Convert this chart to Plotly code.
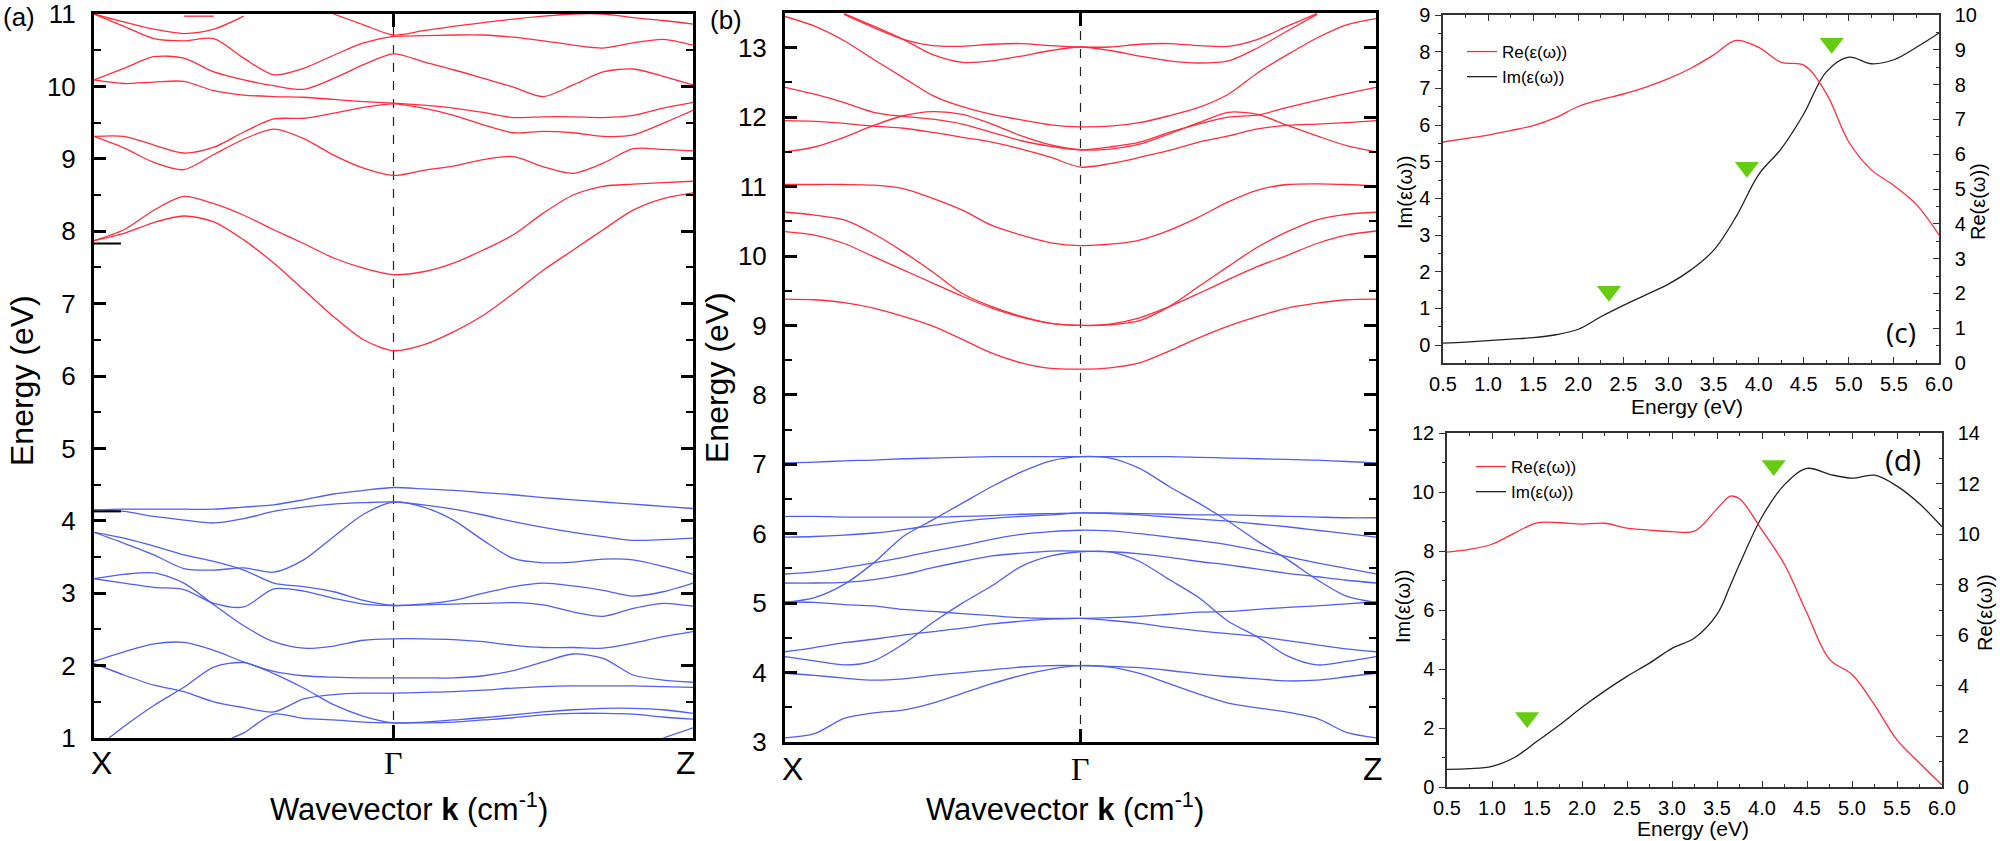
import plotly.graph_objects as go

# ---------------- data ----------------
# k path X - Gamma - Z (Gamma in the middle)
kpoint_pos = [0.0, 1.0, 2.0]
kpoint_names = ["X", "Γ", "Z"]
k_grid = [0.0, 0.1, 0.2, 0.3, 0.4, 0.5, 0.6, 0.7, 0.8, 0.9, 1.0,
          1.1, 1.2, 1.3, 1.4, 1.5, 1.6, 1.7, 1.8, 1.9, 2.0]

# panel (a) conduction bands (eV) on k_grid
a_c1 = [7.87, 7.97, 8.12, 8.21, 8.13, 7.88, 7.56, 7.19, 6.82, 6.5, 6.35, 6.43, 6.61, 6.84, 7.14, 7.46, 7.74, 8.02, 8.29, 8.45, 8.53]
a_c2 = [7.87, 8.02, 8.29, 8.48, 8.38, 8.22, 8.02, 7.83, 7.63, 7.49, 7.40, 7.44, 7.56, 7.74, 7.95, 8.25, 8.5, 8.62, 8.65, 8.67, 8.69]
a_c3 = [9.31, 9.15, 8.95, 8.85, 9.06, 9.27, 9.41, 9.28, 9.05, 8.87, 8.77, 8.84, 8.9, 8.99, 9.03, 8.89, 8.8, 8.94, 9.14, 9.13, 9.11]
a_c4 = [9.31, 9.31, 9.19, 9.08, 9.16, 9.37, 9.55, 9.56, 9.63, 9.71, 9.76, 9.70, 9.6, 9.47, 9.36, 9.38, 9.36, 9.31, 9.33, 9.49, 9.67]
a_c5 = [10.09, 10.04, 10.06, 10.07, 9.94, 9.88, 9.86, 9.85, 9.82, 9.79, 9.77, 9.74, 9.7, 9.64, 9.57, 9.58, 9.58, 9.57, 9.6, 9.7, 9.78]
a_c6 = [10.09, 10.25, 10.41, 10.39, 10.2, 10.09, 10.01, 9.96, 10.11, 10.3, 10.45, 10.34, 10.23, 10.11, 9.99, 9.86, 10.02, 10.2, 10.24, 10.14, 10.02]
a_c7 = [11.0, 10.83, 10.66, 10.63, 10.66, 10.39, 10.16, 10.25, 10.43, 10.6, 10.69, 10.7, 10.71, 10.71, 10.68, 10.63, 10.57, 10.53, 10.6, 10.65, 10.57]
a_c8 = [11.0, 10.89, 10.79, 10.73, 10.79, 10.97, None, None, None, None, None, None, None, None, None, None, None, None, None, None, None]
a_c9 = [None, None, None, 10.97, 10.97, None, None, None, None, None, None, None, None, None, None, None, None, None, None, None, None]
a_c10 = [None, None, None, None, None, None, None, None, 11.0, 10.85, 10.71, 10.77, 10.83, 10.88, 10.93, 10.97, 11.0, 11.0, 10.95, 10.91, 10.86]

# panel (a) valence bands (eV) on k_grid
a_v1 = [4.15, 4.16, 4.16, 4.16, 4.16, 4.19, 4.22, 4.29, 4.37, 4.42, 4.46, 4.44, 4.42, 4.39, 4.36, 4.32, 4.29, 4.26, 4.23, 4.2, 4.17]
a_v2 = [4.15, 4.13, 4.06, 4.01, 3.97, 4.03, 4.13, 4.19, 4.23, 4.25, 4.26, 4.22, 4.16, 4.08, 3.99, 3.91, 3.84, 3.78, 3.73, 3.74, 3.76]
a_v3 = [3.84, 3.69, 3.53, 3.34, 3.32, 3.35, 3.29, 3.46, 3.78, 4.09, 4.26, 4.19, 4.01, 3.73, 3.48, 3.42, 3.43, 3.47, 3.46, 3.37, 3.26]
a_v4 = [3.84, 3.76, 3.65, 3.53, 3.44, 3.32, 3.14, 3.09, 3.02, 2.9, 2.83, 2.85, 2.9, 3.0, 3.09, 3.14, 3.1, 3.04, 2.96, 3.02, 3.14]
a_v5 = [3.2, 3.14, 3.08, 3.05, 2.86, 2.81, 3.06, 3.03, 2.93, 2.85, 2.83, 2.84, 2.85, 2.86, 2.87, 2.84, 2.74, 2.68, 2.79, 2.86, 2.82]
a_v6 = [3.2, 3.26, 3.28, 3.14, 2.84, 2.55, 2.33, 2.24, 2.27, 2.35, 2.37, 2.37, 2.36, 2.33, 2.28, 2.25, 2.25, 2.24, 2.31, 2.4, 2.47]
a_v7 = [2.06, 2.19, 2.3, 2.32, 2.21, 2.05, 1.92, 1.86, 1.84, 1.83, 1.83, 1.83, 1.83, 1.86, 1.93, 2.05, 2.16, 2.1, 1.87, 1.8, 1.77]
a_v8 = [2.03, 1.87, 1.73, 1.64, 1.5, 1.42, 1.36, 1.54, 1.6, 1.62, 1.62, 1.63, 1.64, 1.66, 1.69, 1.71, 1.72, 1.72, 1.72, 1.71, 1.7]
# bands entering from the bottom edge have their own k points
a_v9_k = [0.05, 0.1, 0.2, 0.3, 0.4, 0.5, 0.6, 0.7, 0.8, 0.9, 1.0, 1.1, 1.2, 1.3, 1.4, 1.5, 1.6, 1.7, 1.8, 1.9, 2.0]
a_v9 = [1.0, 1.16, 1.45, 1.7, 1.98, 2.04, 1.89, 1.69, 1.46, 1.3, 1.21, 1.22, 1.25, 1.28, 1.32, 1.36, 1.39, 1.41, 1.41, 1.39, 1.34]
a_v10_k = [0.46, 0.5, 0.6, 0.7, 0.8, 0.9, 1.0, 1.1, 1.2, 1.3, 1.4, 1.5, 1.6, 1.7, 1.8, 1.9, 2.0]
a_v10 = [1.0, 1.07, 1.33, 1.27, 1.25, 1.22, 1.21, 1.21, 1.22, 1.25, 1.28, 1.32, 1.34, 1.34, 1.33, 1.29, 1.26]
a_v11_k = [1.9, 2.0]
a_v11 = [1.0, 1.14]
# short level marks on the left axis of (a)
a_level_marks = [7.83, 4.13]
a_level_mark_len = 0.09

# panel (b) conduction bands (eV) on k_grid
b_c1 = [12.43, 12.33, 12.21, 12.07, 12.01, 11.97, 11.9, 11.78, 11.66, 11.58, 11.53, 11.57, 11.64, 11.78, 11.9, 12.0, 12.03, 12.14, 12.24, 12.34, 12.43]
b_c2 = [11.5, 11.57, 11.71, 11.88, 12.02, 12.08, 12.04, 11.9, 11.73, 11.6, 11.53, 11.54, 11.61, 11.76, 11.92, 12.07, 12.04, 11.88, 11.73, 11.59, 11.5]
b_c3 = [11.95, 11.94, 11.91, 11.87, 11.84, 11.78, 11.71, 11.64, 11.54, 11.42, 11.28, 11.33, 11.42, 11.52, 11.64, 11.73, 11.83, 11.88, 11.9, 11.92, 11.95]
b_c4 = [11.03, 11.03, 11.03, 11.02, 10.97, 10.83, 10.66, 10.44, 10.3, 10.19, 10.15, 10.17, 10.23, 10.37, 10.56, 10.78, 10.95, 11.03, 11.04, 11.03, 11.01]
b_c5 = [10.63, 10.59, 10.52, 10.32, 10.06, 9.77, 9.46, 9.27, 9.13, 9.03, 9.0, 9.01, 9.07, 9.27, 9.56, 9.85, 10.13, 10.35, 10.52, 10.6, 10.63]
b_c6 = [10.35, 10.3, 10.18, 9.99, 9.8, 9.61, 9.42, 9.25, 9.12, 9.03, 9.0, 9.02, 9.11, 9.27, 9.46, 9.66, 9.85, 10.01, 10.18, 10.3, 10.36]
b_c7 = [9.38, 9.37, 9.33, 9.25, 9.13, 8.99, 8.8, 8.6, 8.46, 8.38, 8.37, 8.39, 8.46, 8.63, 8.82, 8.99, 9.13, 9.25, 9.32, 9.37, 9.38]
b_c8 = [13.45, 13.31, 13.1, 12.83, 12.57, 12.31, 12.15, 12.04, 11.96, 11.89, 11.86, 11.87, 11.92, 12.02, 12.14, 12.33, 12.64, 12.9, 13.14, 13.33, 13.42]
b_c9 = [None, None, 13.49, 13.31, 13.12, 12.9, 12.79, 12.81, 12.88, 12.96, 13.01, 12.96, 12.88, 12.81, 12.78, 12.81, 13.0, 13.24, 13.48, None, None]
b_c10 = [None, None, 13.48, 13.29, 13.12, 13.03, 13.02, 13.05, 13.06, 13.03, 13.01, 13.01, 13.05, 13.06, 13.03, 13.02, 13.12, 13.31, 13.49, None, None]

# panel (b) valence bands (eV) on k_grid
b_v1 = [7.02, 7.03, 7.05, 7.06, 7.08, 7.09, 7.1, 7.11, 7.11, 7.11, 7.11, 7.11, 7.11, 7.11, 7.1, 7.09, 7.08, 7.07, 7.06, 7.04, 7.02]
b_v2 = [5.01, 5.08, 5.27, 5.58, 5.96, 6.2, 6.44, 6.68, 6.89, 7.05, 7.11, 7.09, 6.94, 6.68, 6.44, 6.18, 5.89, 5.63, 5.34, 5.1, 5.01]
b_v3 = [6.25, 6.25, 6.24, 6.24, 6.24, 6.24, 6.25, 6.26, 6.28, 6.29, 6.3, 6.3, 6.29, 6.28, 6.27, 6.27, 6.26, 6.25, 6.24, 6.23, 6.23]
b_v4 = [5.95, 5.96, 5.98, 6.01, 6.06, 6.12, 6.18, 6.22, 6.25, 6.27, 6.3, 6.29, 6.27, 6.24, 6.21, 6.18, 6.14, 6.1, 6.05, 6.0, 5.95]
b_v5 = [5.42, 5.45, 5.51, 5.58, 5.66, 5.75, 5.83, 5.92, 5.99, 6.03, 6.05, 6.04, 6.0, 5.95, 5.9, 5.84, 5.76, 5.67, 5.58, 5.5, 5.42]
b_v6 = [5.29, 5.29, 5.3, 5.34, 5.41, 5.51, 5.6, 5.68, 5.72, 5.75, 5.75, 5.74, 5.71, 5.66, 5.6, 5.55, 5.49, 5.43, 5.38, 5.33, 5.29]
b_v7 = [5.02, 5.01, 4.98, 4.96, 4.91, 4.88, 4.85, 4.82, 4.79, 4.78, 4.78, 4.79, 4.81, 4.84, 4.87, 4.88, 4.91, 4.94, 4.96, 4.99, 5.02]
b_v8 = [4.3, 4.36, 4.43, 4.48, 4.54, 4.59, 4.64, 4.7, 4.74, 4.77, 4.78, 4.75, 4.71, 4.65, 4.6, 4.56, 4.52, 4.46, 4.4, 4.34, 4.3]
b_v9 = [4.23, 4.17, 4.11, 4.17, 4.41, 4.72, 5.0, 5.25, 5.53, 5.68, 5.74, 5.74, 5.6, 5.34, 5.08, 4.74, 4.51, 4.24, 4.11, 4.16, 4.23]
b_v10 = [3.99, 3.96, 3.92, 3.89, 3.91, 3.96, 4.0, 4.04, 4.08, 4.1, 4.1, 4.09, 4.07, 4.03, 3.98, 3.94, 3.91, 3.88, 3.89, 3.94, 3.99]
b_v11 = [3.06, 3.12, 3.34, 3.42, 3.46, 3.56, 3.7, 3.84, 3.96, 4.05, 4.1, 4.08, 3.99, 3.84, 3.69, 3.56, 3.49, 3.43, 3.34, 3.14, 3.06]

# panel (c) dielectric function
c_energy = [0.5, 0.75, 1.0, 1.25, 1.5, 1.75, 2.0, 2.25, 2.5, 2.75, 3.0, 3.25, 3.5, 3.75, 4.0, 4.25, 4.5, 4.75, 5.0, 5.25, 5.5, 5.75, 6.0]
c_im = [0.05, 0.08, 0.12, 0.16, 0.2, 0.28, 0.43, 0.77, 1.08, 1.37, 1.66, 2.05, 2.58, 3.5, 4.65, 5.35, 6.3, 7.45, 7.85, 7.67, 7.78, 8.12, 8.51]
c_re = [6.35, 6.45, 6.55, 6.68, 6.82, 7.05, 7.37, 7.57, 7.73, 7.93, 8.17, 8.47, 8.85, 9.27, 9.07, 8.64, 8.56, 7.75, 6.35, 5.55, 5.1, 4.55, 3.68]
c_peak_energy = [2.34, 3.87, 4.81]
c_peak_level = [1.47, 4.85, 8.23]

# panel (d) dielectric function
d_energy = [0.5, 0.75, 1.0, 1.25, 1.5, 1.75, 2.0, 2.25, 2.5, 2.75, 3.0, 3.25, 3.5, 3.65, 3.75, 4.0, 4.25, 4.5, 4.75, 5.0, 5.25, 5.5, 5.75, 6.0]
d_im = [0.6, 0.62, 0.7, 1.0, 1.55, 2.1, 2.7, 3.25, 3.75, 4.2, 4.7, 5.05, 5.85, 6.85, 7.55, 9.16, 10.25, 10.8, 10.6, 10.47, 10.57, 10.2, 9.6, 8.82]
d_re = [9.29, 9.4, 9.6, 10.04, 10.45, 10.45, 10.4, 10.43, 10.24, 10.16, 10.1, 10.12, 11.0, 11.5, 11.4, 10.16, 8.8, 6.87, 5.05, 4.45, 3.25, 1.86, 0.95, 0.08]
d_peak_energy = [1.39, 4.13]
d_peak_level = [2.36, 10.9]

# ---------------- styles ----------------
W, H = 2000, 841
RED = "#ff2d3c"
BLUE = "#4f5ff0"
GREEN = "#66cc11"
SANS = "Liberation Sans"


def px(x):
    return x / W


def py(y):
    return 1 - y / H


fig = go.Figure()


def add_band(k, e, color, xa, ya):
    fig.add_trace(go.Scatter(
        x=k, y=e, mode="lines", xaxis=xa, yaxis=ya,
        line=dict(color=color, width=1.3, shape="spline", smoothing=0.8),
        showlegend=False, hoverinfo="skip"))


for band in [a_c1, a_c2, a_c3, a_c4, a_c5, a_c6, a_c7, a_c8, a_c9, a_c10]:
    add_band(k_grid, band, RED, "x", "y")
for band in [a_v1, a_v2, a_v3, a_v4, a_v5, a_v6, a_v7, a_v8]:
    add_band(k_grid, band, BLUE, "x", "y")
add_band(a_v9_k, a_v9, BLUE, "x", "y")
add_band(a_v10_k, a_v10, BLUE, "x", "y")
add_band(a_v11_k, a_v11, BLUE, "x", "y")

for band in [b_c1, b_c2, b_c3, b_c4, b_c5, b_c6, b_c7, b_c8, b_c9, b_c10]:
    add_band(k_grid, band, RED, "x2", "y2")
for band in [b_v1, b_v2, b_v3, b_v4, b_v5, b_v6, b_v7, b_v8, b_v9, b_v10, b_v11]:
    add_band(k_grid, band, BLUE, "x2", "y2")

# (c)
fig.add_trace(go.Scatter(x=c_energy, y=c_re, mode="lines", xaxis="x3", yaxis="y4",
                         line=dict(color=RED, width=1.3, shape="spline"),
                         name="Re(ε(ω))", legend="legend"))
fig.add_trace(go.Scatter(x=c_energy, y=c_im, mode="lines", xaxis="x3", yaxis="y3",
                         line=dict(color="#222222", width=1.3, shape="spline"),
                         name="Im(ε(ω))", legend="legend"))
fig.add_trace(go.Scatter(x=c_peak_energy, y=c_peak_level, mode="markers", xaxis="x3", yaxis="y3",
                         marker=dict(symbol="triangle-down", size=21, color=GREEN, line=dict(width=0)),
                         showlegend=False))
# (d)
fig.add_trace(go.Scatter(x=d_energy, y=d_re, mode="lines", xaxis="x4", yaxis="y6",
                         line=dict(color=RED, width=1.3, shape="spline"),
                         name="Re(ε(ω))", legend="legend2"))
fig.add_trace(go.Scatter(x=d_energy, y=d_im, mode="lines", xaxis="x4", yaxis="y5",
                         line=dict(color="#222222", width=1.3, shape="spline"),
                         name="Im(ε(ω))", legend="legend2"))
fig.add_trace(go.Scatter(x=d_peak_energy, y=d_peak_level, mode="markers", xaxis="x4", yaxis="y5",
                         marker=dict(symbol="triangle-down", size=21, color=GREEN, line=dict(width=0)),
                         showlegend=False))

# ---------------- axes ----------------
band_x = dict(range=[kpoint_pos[0], kpoint_pos[-1]], tickvals=[kpoint_pos[1]], showticklabels=False,
              ticks="inside", ticklen=13, tickwidth=3, tickcolor="black",
              showline=True, linewidth=3, linecolor="black", mirror="ticks",
              showgrid=False, zeroline=False, automargin=False)
band_y = dict(dtick=1, tick0=0, ticks="inside", ticklen=12, tickwidth=2.5, tickcolor="black",
              minor=dict(dtick=0.5, ticks="inside", ticklen=7, tickwidth=2, tickcolor="black"),
              showline=True, linewidth=3, linecolor="black", mirror="ticks",
              showgrid=False, zeroline=False, ticklabelstandoff=10, automargin=False,
              ticklabeloverflow="allow",
              tickfont=dict(family=SANS, size=26, color="black"))

eps_x = dict(range=[0.5, 6.0], dtick=0.5, tick0=0.5, tickformat=".1f",
             ticks="inside", ticklen=6, tickwidth=1.3, tickcolor="#333",
             minor=dict(dtick=0.25, ticks="inside", ticklen=3, tickwidth=1.2, tickcolor="#333"),
             showline=True, linewidth=1.5, linecolor="#333", mirror="ticks",
             showgrid=False, zeroline=False, ticklabelstandoff=2, automargin=False,
             ticklabeloverflow="allow",
             tickfont=dict(family=SANS, size=20, color="black"))
eps_yl = dict(ticks="outside", ticklen=6, tickwidth=1.3, tickcolor="#333",
              showline=True, linewidth=1.5, linecolor="#333",
              showgrid=False, zeroline=False, ticklabelstandoff=1, automargin=False,
              ticklabeloverflow="allow",
              tickfont=dict(family=SANS, size=20, color="black"))
eps_yr = dict(ticks="inside", ticklen=6, tickwidth=1.3, tickcolor="#333",
              showline=True, linewidth=1.5, linecolor="#333", side="right",
              showgrid=False, zeroline=False, ticklabelstandoff=10, automargin=False,
              ticklabeloverflow="allow",
              tickfont=dict(family=SANS, size=20, color="black"))

fig.update_layout(
    template="none",
    xaxis=dict(band_x, domain=[px(94), px(693)], anchor="y"),
    yaxis=dict(band_y, domain=[py(738), py(14)], range=[1, 11], anchor="x"),
    xaxis2=dict(band_x, domain=[px(785), px(1376)], anchor="y2"),
    yaxis2=dict(band_y, domain=[py(742), py(13)], range=[3, 13.5], anchor="x2"),
    xaxis3=dict(eps_x, domain=[px(1443), px(1939)], anchor="y3"),
    yaxis3=dict(eps_yl, domain=[py(363), py(15)], range=[-0.49, 9], dtick=1,
                minor=dict(dtick=0.5, ticks="outside", ticklen=3, tickcolor="#333"), anchor="x3"),
    yaxis4=dict(eps_yr, range=[0, 10], dtick=1, overlaying="y3", anchor="x3",
                minor=dict(dtick=0.5, ticks="inside", ticklen=3, tickcolor="#333")),
    xaxis4=dict(eps_x, domain=[px(1447), px(1942)], anchor="y5"),
    yaxis5=dict(eps_yl, domain=[py(787), py(433)], range=[0, 12], dtick=2,
                minor=dict(dtick=1, ticks="outside", ticklen=3, tickcolor="#333"), anchor="x4"),
    yaxis6=dict(eps_yr, range=[0, 14], dtick=2, overlaying="y5", anchor="x4",
                minor=dict(dtick=1, ticks="inside", ticklen=3, tickcolor="#333")),
)

# Gamma dashed lines and level marks
shapes = []
for xr, yr in [("x", "y domain"), ("x2", "y2 domain")]:
    shapes.append(dict(type="line", xref=xr, yref=yr, x0=kpoint_pos[1], x1=kpoint_pos[1], y0=0, y1=1,
                       line=dict(color="#222", width=1.2, dash="dash"), layer="below"))
for lv in a_level_marks:
    shapes.append(dict(type="line", xref="x", yref="y", x0=kpoint_pos[0], x1=a_level_mark_len, y0=lv, y1=lv,
                       line=dict(color="black", width=2)))

# ---------------- text ----------------
ann = []
# k-point labels
for xr, ylab, shifts in [("x", py(763), [7, 0, -7]), ("x2", py(769), [7, 0, -3])]:
    for kp, name, sh in zip(kpoint_pos, kpoint_names, shifts):
        fam = "Liberation Serif" if name == "Γ" else SANS
        ann.append(dict(x=kp, xref=xr, y=ylab, yref="paper", text=name, showarrow=False, xshift=sh,
                        font=dict(family=fam, size=32, color="black"), xanchor="center", yanchor="middle"))


def label(x, y, text, size, angle=0, family=SANS):
    ann.append(dict(x=px(x), y=py(y), xref="paper", yref="paper", text=text, showarrow=False,
                    textangle=angle, font=dict(family=family, size=size, color="black"),
                    xanchor="center", yanchor="middle"))


label(22, 381, "Energy (eV)", 32, -90)
label(717, 378, "Energy (eV)", 32, -90)
label(409, 807, "Wavevector <b>k</b> (cm<sup>-1</sup>)", 31)
label(1065, 807, "Wavevector <b>k</b> (cm<sup>-1</sup>)", 31)
label(19, 17, "(a)", 26)
label(726, 20, "(b)", 26)
label(1405, 193, "Im(ε(ω))", 20, -90)
label(1978, 202, "Re(ε(ω))", 20, -90)
label(1687, 406, "Energy (eV)", 21)
label(1403, 607, "Im(ε(ω))", 20, -90)
label(1985, 613, "Re(ε(ω))", 20, -90)
label(1693, 828, "Energy (eV)", 21)
label(1901, 332, "(c)", 28, family="Open Sans")
label(1903, 459, "(d)", 30, family="Open Sans")

fig.update_layout(
    width=W, height=H, autosize=False,
    margin=dict(l=0, r=0, t=0, b=0, pad=0),
    paper_bgcolor="white", plot_bgcolor="white",
    shapes=shapes, annotations=ann,
    legend=dict(x=px(1462), y=py(34), xanchor="left", yanchor="top", bgcolor="rgba(0,0,0,0)",
                font=dict(family=SANS, size=17, color="black"), tracegroupgap=0, itemwidth=30),
    legend2=dict(x=px(1471), y=py(449), xanchor="left", yanchor="top", bgcolor="rgba(0,0,0,0)",
                 font=dict(family=SANS, size=17, color="black"), tracegroupgap=0, itemwidth=30),
)

fig.write_html("out.html", config={"displayModeBar": False})

# drop the browser's default page margin so the figure sits at the window origin
with open("out.html", encoding="utf-8") as f:
    page = f.read()
page = page.replace("<body>", '<body style="margin:0;overflow:hidden">', 1)
with open("out.html", "w", encoding="utf-8") as f:
    f.write(page)
